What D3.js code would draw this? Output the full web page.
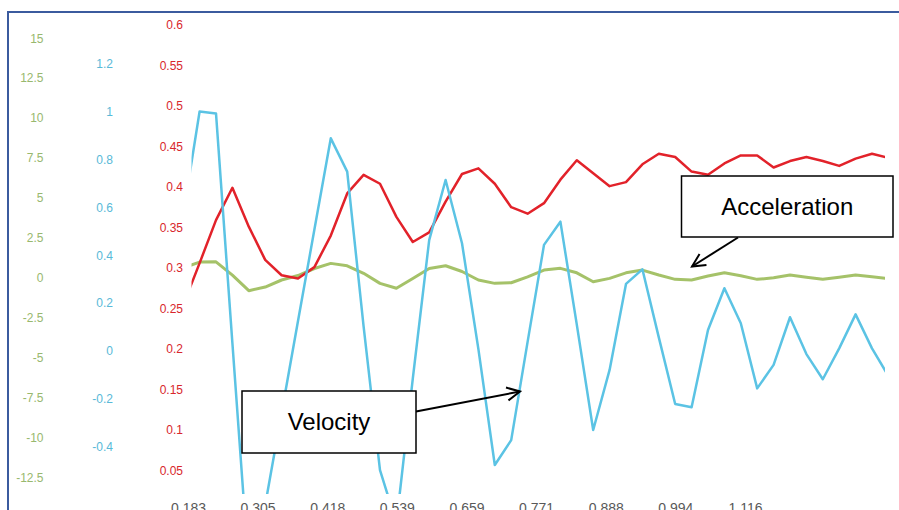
<!DOCTYPE html>
<html>
<head>
<meta charset="utf-8">
<script src="https://cdn.jsdelivr.net/npm/d3@7"></script>
<style>
  html, body { margin: 0; padding: 0; background: #ffffff; overflow: hidden; }
  svg { display: block; font-family: "Liberation Sans", Arial, sans-serif; }
</style>
</head>
<body>
<svg id="chart" width="899" height="510"></svg>
<script>
// ---------- data ----------
const timeLabels = ["0.183", "0.305", "0.418", "0.539", "0.659", "0.771", "0.888", "0.994", "1.116"];

const position = [0.254, 0.306, 0.359, 0.399, 0.351, 0.310, 0.291, 0.287, 0.301, 0.340,
                  0.392, 0.415, 0.404, 0.363, 0.332, 0.344, 0.382, 0.416, 0.423, 0.404,
                  0.375, 0.367, 0.380, 0.409, 0.433, 0.417, 0.401, 0.406, 0.428, 0.441,
                  0.437, 0.419, 0.415, 0.429, 0.439, 0.439, 0.424, 0.432, 0.437, 0.432,
                  0.426, 0.435, 0.441, 0.436];

const velocity = [0.568, 1.000, 0.992, 0.033, -0.914, -0.643, -0.259, 0.125, 0.507, 0.888,
                  0.749, 0.103, -0.497, -0.718, -0.115, 0.463, 0.714, 0.450, 0.008, -0.476,
                  -0.372, 0.038, 0.443, 0.540, 0.110, -0.330, -0.079, 0.280, 0.341, 0.057,
                  -0.221, -0.235, 0.088, 0.262, 0.116, -0.156, -0.058, 0.141, -0.013, -0.118,
                  0.011, 0.153, 0.011, -0.104];

const acceleration = [0.61, 0.98, 1.00, 0.17, -0.81, -0.58, -0.14, 0.14, 0.58, 0.90,
                      0.75, 0.28, -0.35, -0.66, -0.05, 0.58, 0.75, 0.39, -0.14, -0.35,
                      -0.31, 0.06, 0.48, 0.59, 0.31, -0.25, -0.04, 0.31, 0.48, 0.17,
                      -0.10, -0.14, 0.11, 0.31, 0.13, -0.10, 0.00, 0.17, 0.03, -0.10,
                      0.03, 0.17, 0.06, -0.05];

const accTicks = [15, 12.5, 10, 7.5, 5, 2.5, 0, -2.5, -5, -7.5, -10, -12.5];
const velTicks = [1.2, 1, 0.8, 0.6, 0.4, 0.2, 0, -0.2, -0.4];
const posTicks = [0.6, 0.55, 0.5, 0.45, 0.4, 0.35, 0.3, 0.25, 0.2, 0.15, 0.1, 0.05];

// ---------- layout ----------
const svg = d3.select("#chart");
const W = 899, H = 510;
const plot = { left: 191.5, right: 885, top: 14, bottom: 494 };

const n = position.length;
const x = d3.scaleLinear().domain([0, n - 1]).range([183.2, 888.4]);
const xLabel = d3.scalePoint().domain(timeLabels).range([188, 745]);

const yAcc = d3.scaleLinear().domain([-12.5, 15]).range([477.4, 38.2]);
const yVel = d3.scaleLinear().domain([-0.4, 1.2]).range([446.8, 63.6]);
const yPos = d3.scaleLinear().domain([0.05, 0.6]).range([470.4, 25]);

const colAcc = "#9bbb59", colVel = "#5bc3e4", colPos = "#e2222a";
const colAccText = "#98b86e", colVelText = "#58b9d8", colPosText = "#d8262c";

svg.append("rect").attr("width", W).attr("height", H).attr("fill", "#ffffff");

// ---------- axes ----------
function drawAxis(scale, ticks, xPos, color) {
  const g = svg.append("g")
    .attr("transform", `translate(${xPos},0)`)
    .call(d3.axisLeft(scale).tickValues(ticks).tickSize(0).tickPadding(0)
      .tickFormat(d => String(d)));
  g.select(".domain").remove();
  g.selectAll("text")
    .attr("fill", color)
    .style("font-size", "12px")
    .style("font-family", "'Liberation Sans', Arial, sans-serif");
}
drawAxis(yAcc, accTicks, 43.5, colAccText);
drawAxis(yVel, velTicks, 113, colVelText);
drawAxis(yPos, posTicks, 183, colPosText);

// x tick labels (cut by the bottom edge, as in the reference)
const gx = svg.append("g")
  .attr("transform", `translate(0,500)`)
  .call(d3.axisBottom(xLabel).tickSize(0).tickPadding(3));
gx.select(".domain").remove();
gx.selectAll("text")
  .attr("fill", "#595959")
  .style("font-size", "14px")
  .style("font-family", "'Liberation Sans', Arial, sans-serif");

// ---------- lines ----------
svg.append("clipPath").attr("id", "plotclip")
  .append("rect")
  .attr("x", plot.left).attr("y", plot.top)
  .attr("width", plot.right - plot.left).attr("height", plot.bottom - plot.top);

const lines = svg.append("g").attr("clip-path", "url(#plotclip)");

function drawLine(values, yScale, color, width, opacity) {
  lines.append("path")
    .datum(values)
    .attr("fill", "none")
    .attr("stroke", color)
    .attr("stroke-width", width)
    .attr("stroke-opacity", opacity)
    .attr("stroke-linejoin", "round")
    .attr("d", d3.line().x((d, i) => x(i)).y(d => yScale(d)));
}
drawLine(acceleration, yAcc, colAcc, 3, 0.9);
drawLine(position, yPos, colPos, 2.5, 1);
drawLine(velocity, yVel, colVel, 2.5, 1);

// ---------- frame ----------
svg.append("path")
  .attr("d", `M8,${H} L8,12 L${W},12`)
  .attr("fill", "none")
  .attr("stroke", "#3b5b9e")
  .attr("stroke-width", 2);

// ---------- annotations ----------
const defs = svg.append("defs");
defs.append("marker")
  .attr("id", "arrowhead")
  .attr("viewBox", "-1 -8 16 16")
  .attr("markerWidth", 16).attr("markerHeight", 16)
  .attr("refX", 13).attr("refY", 0)
  .attr("markerUnits", "userSpaceOnUse")
  .attr("orient", "auto")
  .append("path")
  .attr("d", "M0,-6.5 L13,0 L0,6.5")
  .attr("fill", "none")
  .attr("stroke", "#000")
  .attr("stroke-width", 2);

const callouts = [
  { label: "Acceleration", box: [681.5, 176, 211.5, 61], from: [738, 237.5], to: [692, 266.5] },
  { label: "Velocity", box: [242, 391, 174, 62], from: [416, 411.5], to: [520, 391.5] }
];

callouts.forEach(c => {
  svg.append("line")
    .attr("x1", c.from[0]).attr("y1", c.from[1])
    .attr("x2", c.to[0]).attr("y2", c.to[1])
    .attr("stroke", "#000").attr("stroke-width", 2)
    .attr("marker-end", "url(#arrowhead)");
  svg.append("rect")
    .attr("x", c.box[0]).attr("y", c.box[1])
    .attr("width", c.box[2]).attr("height", c.box[3])
    .attr("fill", "#fff").attr("stroke", "#000").attr("stroke-width", 1.5);
  svg.append("text")
    .attr("x", c.box[0] + c.box[2] / 2)
    .attr("y", c.box[1] + c.box[3] / 2)
    .attr("dy", "0.35em")
    .attr("text-anchor", "middle")
    .attr("fill", "#000")
    .style("font-size", "24px")
    .style("font-family", "'Liberation Sans', Arial, sans-serif")
    .text(c.label);
});
</script>
</body>
</html>
